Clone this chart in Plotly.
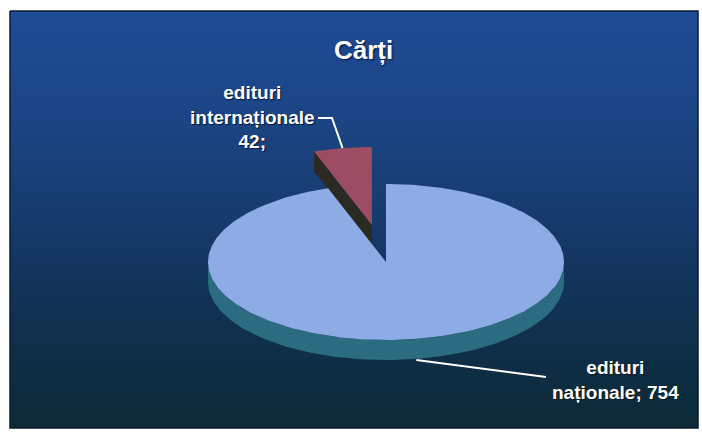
import numpy as np
import plotly.graph_objects as go

# ---- data ----
labels = ["edituri naționale", "edituri internaționale"]
values = [754, 42]
label_text = ["edituri<br>naționale; 754", "edituri<br>internaționale<br>42;"]
title_text = "Cărți"

# ---- geometry / style ----
W, H = 702, 432
CX, CY, A, B, D = 386, 262, 178, 78, 20
explode = [0.0, 0.48]
top_colors = ["#8dabe5", "#9c4c63"]
side_colors = ["#2b6c80", "#2a2a22"]
FONT = "Liberation Sans, Arial, sans-serif"

fig = go.Figure()

# background panel with vertical gradient
fig.add_trace(go.Scatter(
    x=[10, 698, 698, 10, 10], y=[11, 11, 428, 428, 11],
    mode="lines", fill="toself",
    line=dict(color="#0b1a30", width=1.5),
    fillgradient=dict(type="vertical",
                      colorscale=[[0, "#0c2a36"], [0.25, "#10304f"], [0.5, "#163a6c"],
                                  [0.75, "#1b4585"], [1, "#1e4b96"]]),
    hoverinfo="skip", showlegend=False))


def pt(theta_deg, cx, cy, z=0.0):
    t = np.radians(theta_deg)
    return cx + A * np.cos(t), cy - B * np.sin(t) + z


total = float(sum(values))
start = 90.0
slices = []
for v, e in zip(values, explode):
    sweep = 360.0 * v / total
    end = start - sweep
    mid = (start + end) / 2.0
    ox = CX + e * A * np.cos(np.radians(mid))
    oy = CY - e * B * np.sin(np.radians(mid))
    slices.append(dict(start=start, end=end, mid=mid, cx=ox, cy=oy))
    start = end


def poly(xs, ys, color):
    fig.add_trace(go.Scatter(x=list(xs) + [xs[0]], y=list(ys) + [ys[0]],
                             mode="lines", fill="toself", fillcolor=color,
                             line=dict(width=0, color=color),
                             hoverinfo="skip", showlegend=False))


def draw_slice(s, top_c, side_c):
    cx, cy = s["cx"], s["cy"]
    # radial faces
    for th, is_start in ((s["start"], True), (s["end"], False)):
        c = np.cos(np.radians(th))
        vis = c < -1e-6 if is_start else c > 1e-6
        if vis:
            ex, ey = pt(th, cx, cy)
            poly([cx, ex, ex, cx], [cy, ey, ey + D, cy + D], side_c)
    # outer wall (front half only)
    lo, hi = s["end"], s["start"]
    for k in range(-2, 3):
        a0, a1 = -180 + 360 * k, 0 + 360 * k
        l, h = max(lo, a0), min(hi, a1)
        if h > l:
            th = np.linspace(l, h, 120)
            xs, ys = pt(th, cx, cy)
            poly(np.concatenate([xs, xs[::-1]]),
                 np.concatenate([ys, (ys + D)[::-1]]), side_c)
    # top face
    th = np.linspace(s["start"], s["end"], 400)
    xs, ys = pt(th, cx, cy)
    poly(np.concatenate([[cx], xs]), np.concatenate([[cy], ys]), top_c)


# back (exploded) slice first, then the main slice
for i in (1, 0):
    draw_slice(slices[i], top_colors[i], side_colors[i])

# leader lines
s1 = slices[1]
mx, my = pt(s1["mid"], s1["cx"], s1["cy"])
fig.add_trace(go.Scatter(x=[318, 332, mx], y=[118, 118, my], mode="lines",
                         line=dict(color="white", width=2),
                         hoverinfo="skip", showlegend=False))
s0 = slices[0]
nx, ny = pt(s0["mid"], s0["cx"], s0["cy"], D)
fig.add_trace(go.Scatter(x=[nx + 1, 546], y=[ny + 1, 377], mode="lines",
                         line=dict(color="white", width=2),
                         hoverinfo="skip", showlegend=False))

# texts
fig.add_annotation(x=363, y=50, xref="x", yref="y", text=title_text,
                   showarrow=False, xanchor="center", yanchor="middle",
                   font=dict(family=FONT, size=26, color="white", weight="bold",
                             shadow="1px 1px 2px #08163a"))
fig.add_annotation(x=252, y=117, xref="x", yref="y", text=label_text[1],
                   showarrow=False, xanchor="center", yanchor="middle", align="center",
                   font=dict(family=FONT, size=19, color="white", weight="bold",
                             shadow="1px 1px 1px #08163a"))
fig.add_annotation(x=615, y=380, xref="x", yref="y", text=label_text[0],
                   showarrow=False, xanchor="center", yanchor="middle", align="center",
                   font=dict(family=FONT, size=19, color="white", weight="bold",
                             shadow="1px 1px 1px #061a20"))

fig.update_layout(
    width=W, height=H, margin=dict(l=0, r=0, t=0, b=0),
    paper_bgcolor="white", plot_bgcolor="white",
    xaxis=dict(range=[0, W], visible=False, fixedrange=True),
    yaxis=dict(range=[H, 0], visible=False, fixedrange=True),
    showlegend=False,
)

fig.write_html("out.html", config={"displayModeBar": False},
               post_script="document.body.style.margin='0';"
                           "document.body.style.overflow='hidden';")
